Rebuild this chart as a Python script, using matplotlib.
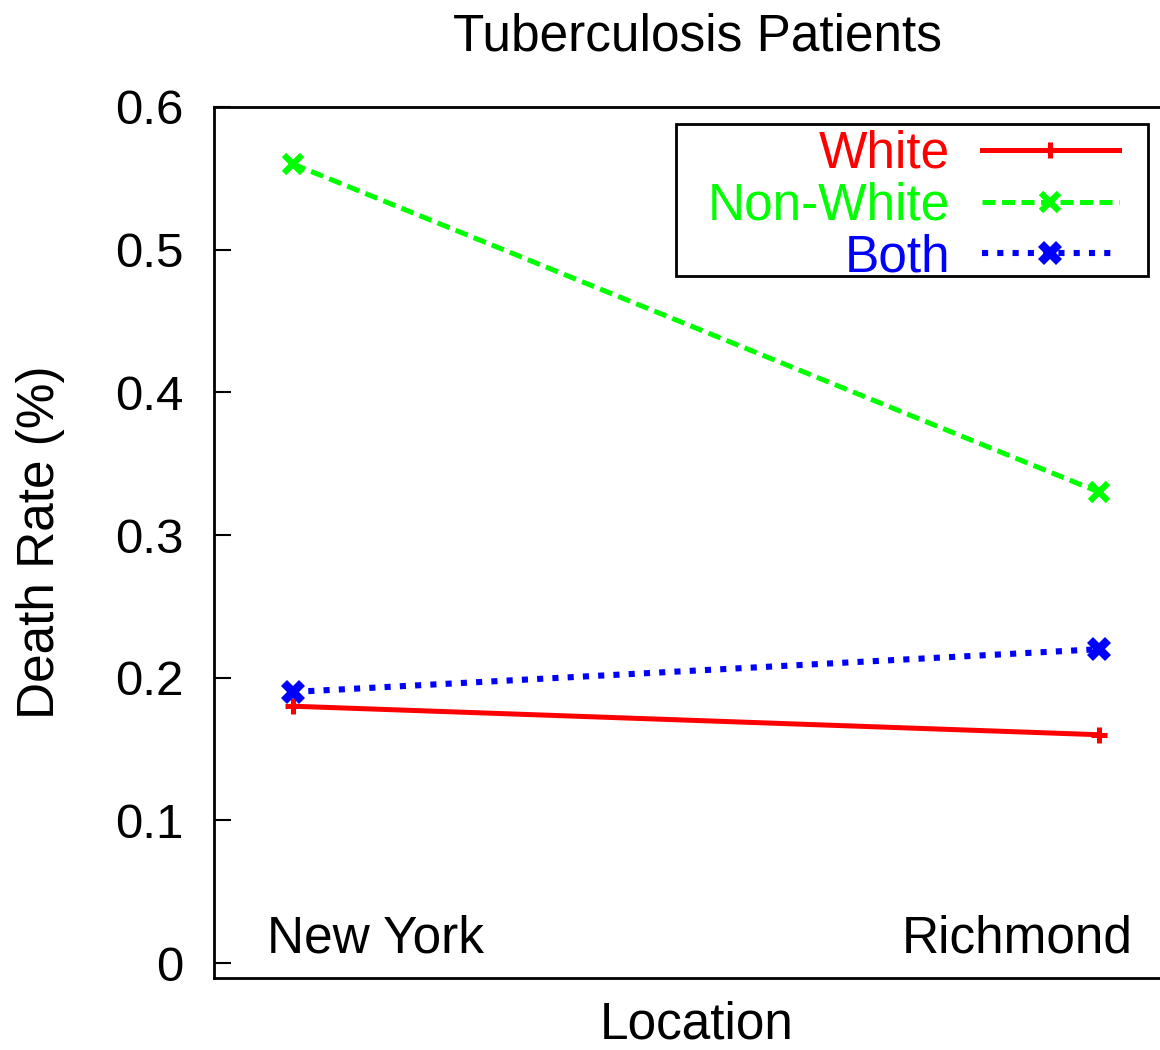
import matplotlib
matplotlib.use("Agg")
import matplotlib.pyplot as plt
from matplotlib.patches import Rectangle

plt.rcParams['font.family'] = ['Liberation Sans', 'DejaVu Sans']

locations = ["New York", "Richmond"]
white = [0.18, 0.16]
non_white = [0.56, 0.33]
both = [0.19, 0.22]
yticks = [0, 0.1, 0.2, 0.3, 0.4, 0.5, 0.6]

fig = plt.figure(figsize=(11.6, 10.5), dpi=100)
ax = fig.add_axes([214 / 1160, 72 / 1050, 966 / 1160, 871 / 1050])

x = list(range(len(locations)))
ax.plot(x, white, color='#ff0000', lw=3.6, marker='+', ms=11, mew=3.6,
        label='White')
ax.plot(x, non_white, color='#00ff00', lw=3.6, marker='x', ms=13, mew=4.5,
        dashes=(2.6, 1.3), label='Non-White')
ax.plot(x, both, color='#0000ff', lw=4.4, marker='X', ms=17, mew=0,
        dashes=(1.0, 1.5), label='Both')

ax.set_xlim(-0.098, 1.1)
ax.set_ylim(-0.0105, 0.6)
ax.set_yticks(yticks)
ax.set_yticklabels([f"{v:g}" for v in yticks])
ax.set_xticks([])
ax.tick_params(axis='y', direction='in', length=12, width=1.5, pad=22,
               labelsize=35.5)
for s in ['left', 'bottom', 'top']:
    ax.spines[s].set_linewidth(2)
ax.spines['right'].set_visible(False)

# category names sit inside the frame, gnuplot style
ax.text(-0.032, 0.0077, locations[0], ha='left', va='baseline', fontsize=37)
ax.text(1.041, 0.0077, locations[1], ha='right', va='baseline', fontsize=37)

ax.set_xlabel("Location", fontsize=37, labelpad=16)
ax.set_ylabel("Death Rate (%)", fontsize=37, labelpad=36)
ax.set_title("Tuberculosis Patients", fontsize=37, pad=41)

# gnuplot key box: wider than its content, so draw it separately
box = Rectangle((676 / 1160, 1 - 276 / 1050), 472 / 1160, 152 / 1050,
                transform=fig.transFigure, facecolor='white', edgecolor='black',
                lw=2, zorder=4.9, clip_on=False)
ax.add_artist(box)

leg = ax.legend(loc='upper right', bbox_to_anchor=(1119 / 1160, 1 - 130 / 1050),
                bbox_transform=fig.transFigure, borderaxespad=0, frameon=False,
                markerfirst=False, fontsize=37, handlelength=2.67,
                handletextpad=0.62, labelspacing=0.05, borderpad=0.0)
for txt, c in zip(leg.get_texts(), ['#ff0000', '#00ff00', '#0000ff']):
    txt.set_color(c)

fig.savefig("out.png", dpi=100)
